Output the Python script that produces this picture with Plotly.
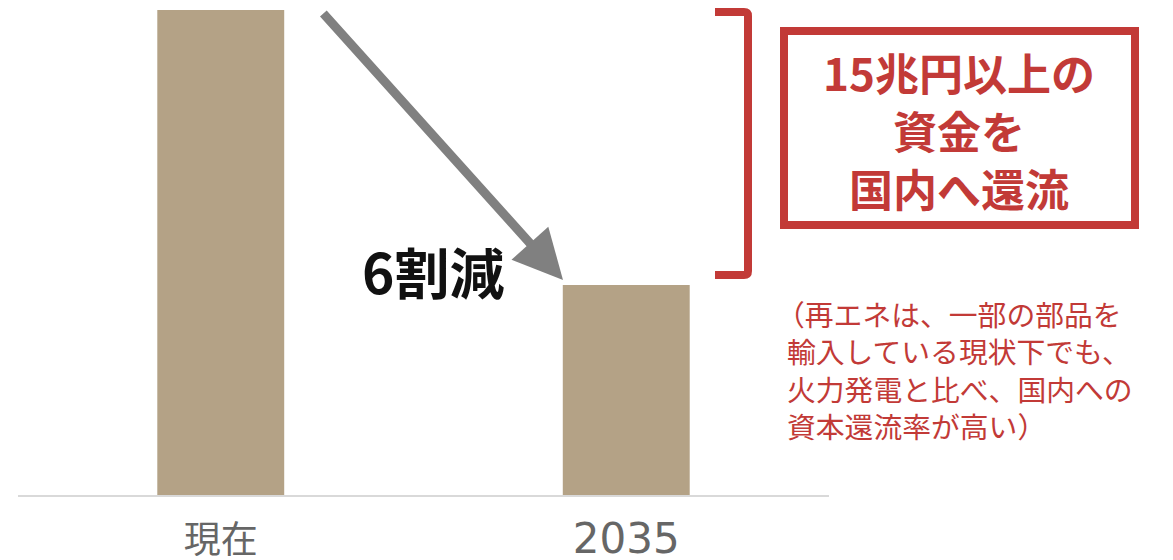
import plotly.graph_objects as go

categories = ["現在", "2035"]
tick_labels = ["現在", '<span style="font-family:DejaVu Sans;font-size:42px">2035</span>']
values = [100, 43.3]
box_lines = ["15兆円以上の", "資金を", "国内へ還流"]
note_lines = ["（再エネは、一部の部品を", "輸入している現状下でも、", "火力発電と比べ、国内への", "資本還流率が高い）"]

BAR_COLOR = "#B4A286"
RED = "#C23A37"
FONT = "Noto Sans CJK JP"

W, H = 1173, 560
L, R, T, B = 18, 344, 10, 65
PW, PH = W - L - R, H - T - B


def px(x):
    return (x - L) / PW


def py(y):
    return (H - B - y) / PH


fig = go.Figure(go.Bar(x=categories, y=values, marker_color=BAR_COLOR,
                       marker_line_width=0, hoverinfo="skip"))

shapes = [
    dict(type="path", xref="paper", yref="paper",
         path=f"M {px(715)},{py(12)} L {px(744)},{py(12)} Q {px(748)},{py(12)} {px(748)},{py(16)} "
              f"L {px(748)},{py(271)} Q {px(748)},{py(275)} {px(744)},{py(275)} L {px(715)},{py(275)}",
         line=dict(color=RED, width=8)),
    dict(type="rect", xref="paper", yref="paper",
         x0=px(784), x1=px(1135), y0=py(31), y1=py(225),
         line=dict(color=RED, width=8)),
]

annotations = [
    dict(xref="paper", yref="paper", x=px(563), y=py(280), ax=322 - 563, ay=12 - 280,
         text="", showarrow=True, arrowhead=2, arrowsize=1.1, arrowwidth=9,
         arrowcolor="#808080", standoff=0),
    dict(xref="paper", yref="paper", x=px(433), y=py(270), text="<b>6割減</b>",
         showarrow=False, font=dict(size=55, color="#111111", family=FONT),
         xanchor="center", yanchor="middle"),
]

for i, line in enumerate(box_lines):
    annotations.append(dict(xref="paper", yref="paper", x=px(959), y=py(72 + 58 * i),
                            text=f"<b>{line}</b>", showarrow=False, borderpad=0,
                            font=dict(size=44, color=RED, family=FONT),
                            xanchor="center", yanchor="middle"))

for i, line in enumerate(note_lines):
    annotations.append(dict(xref="paper", yref="paper", x=px(775 if i == 0 else 786),
                            y=py(313 + 37.5 * i),
                            text=line, showarrow=False, borderpad=0,
                            font=dict(size=28.8, color=RED, family=FONT),
                            xanchor="left", yanchor="middle"))

fig.update_layout(
    width=W, height=H,
    margin=dict(l=L, r=R, t=T, b=B),
    paper_bgcolor="white", plot_bgcolor="white",
    bargap=0.687,
    showlegend=False,
    shapes=shapes,
    annotations=annotations,
    xaxis=dict(showline=True, linecolor="#D9D9D9", linewidth=2, showgrid=False,
               tickmode="array", tickvals=categories, ticktext=tick_labels,
               tickfont=dict(size=37, color="#666666", family=FONT),
               ticks="", ticklabelstandoff=12, zeroline=False, automargin=False),
    yaxis=dict(visible=False, range=[0, 100], fixedrange=True, automargin=False),
)

fig.write_html("out.html")
